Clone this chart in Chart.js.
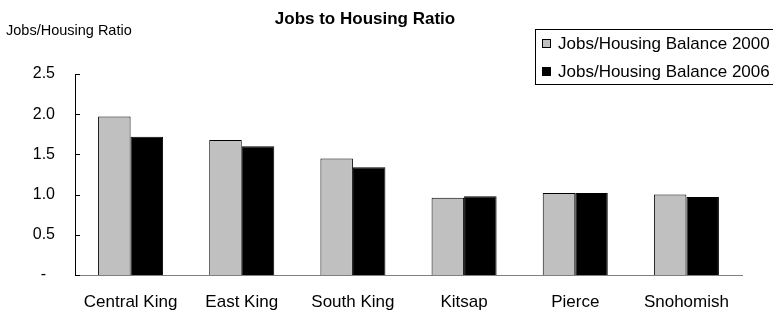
<!DOCTYPE html>
<html>
<head>
<meta charset="utf-8">
<script src="https://cdn.jsdelivr.net/npm/chart.js@4"></script>
<style>
  html, body { margin: 0; padding: 0; background: #fff; }
  #wrap { width: 773px; height: 311px; position: relative; }
</style>
</head>
<body>
<div id="wrap"><canvas id="jobsChart"></canvas></div>
<script>
// Data
const regions = ['Central King', 'East King', 'South King', 'Kitsap', 'Pierce', 'Snohomish'];
const balance2000 = [1.97, 1.68, 1.45, 0.96, 1.02, 1.00];
const balance2006 = [1.72, 1.60, 1.34, 0.98, 1.02, 0.97];
const yTickLabels = { 0: '-  ', 0.5: '0.5', 1: '1.0', 1.5: '1.5', 2: '2.0', 2.5: '2.5' };

const FONT = "'Liberation Sans', Arial, sans-serif";

// Draws the title, y axis caption, inside tick marks and boxed legend
const decorations = {
    id: 'decorations',
    afterDraw(chart) {
        const ctx = chart.ctx;
        const y = chart.scales.y;
        const area = chart.chartArea;
        ctx.save();

        // inside ticks on the value axis
        ctx.strokeStyle = '#000';
        ctx.lineWidth = 1;
        y.ticks.forEach(t => {
            const py = Math.round(y.getPixelForValue(t.value)) + 0.5;
            ctx.beginPath();
            ctx.moveTo(area.left, py);
            ctx.lineTo(area.left + 5, py);
            ctx.stroke();
        });

        // chart title
        ctx.fillStyle = '#000';
        ctx.font = 'bold 17px ' + FONT;
        ctx.textAlign = 'center';
        ctx.textBaseline = 'middle';
        ctx.fillText('Jobs to Housing Ratio', 365, 19);

        // axis caption
        ctx.font = '14.5px ' + FONT;
        ctx.textAlign = 'left';
        ctx.fillText('Jobs/Housing Ratio', 6, 31);

        // legend
        ctx.strokeRect(535.5, 29.5, 245, 55);
        ctx.font = '17px ' + FONT;
        chart.data.datasets.forEach((ds, i) => {
            const cy = 43 + i * 28;
            ctx.fillStyle = ds.backgroundColor;
            ctx.fillRect(542, cy - 4, 9, 9);
            ctx.strokeStyle = '#000';
            ctx.strokeRect(542.5, cy - 3.5, 8, 8);
            ctx.fillStyle = '#000';
            ctx.fillText(ds.label, 558, cy + 1);
        });
        ctx.restore();
    }
};

new Chart(document.getElementById('jobsChart').getContext('2d'), {
    type: 'bar',
    data: {
        labels: regions,
        datasets: [
            {
                label: 'Jobs/Housing Balance 2000',
                data: balance2000,
                backgroundColor: '#c0c0c0',
                borderColor: '#000',
                borderWidth: 1,
                categoryPercentage: 0.585,
                barPercentage: 1
            },
            {
                label: 'Jobs/Housing Balance 2006',
                data: balance2006,
                backgroundColor: '#000',
                borderColor: '#000',
                borderWidth: 1,
                categoryPercentage: 0.585,
                barPercentage: 1
            }
        ]
    },
    options: {
        responsive: true,
        maintainAspectRatio: false,
        animation: false,
        layout: { padding: { left: 0, top: 74, right: 31, bottom: 0 } },
        plugins: {
            legend: { display: false },
            title: { display: false },
            tooltip: { enabled: false }
        },
        scales: {
            x: {
                grid: { display: false },
                border: { display: true, color: '#808080', width: 1 },
                ticks: { color: '#000', font: { family: FONT, size: 17 }, padding: 9, maxRotation: 0, autoSkip: false },
                afterFit(scale) { scale.height = 36; }
            },
            y: {
                min: 0,
                max: 2.5,
                grid: { display: false },
                border: { display: true, color: '#000', width: 1 },
                ticks: {
                    stepSize: 0.5,
                    color: '#000',
                    padding: 12,
                    font: { family: FONT, size: 16 },
                    callback: v => yTickLabels[v]
                },
                afterFit(scale) { scale.width = 75; }
            }
        }
    },
    plugins: [decorations]
});
</script>
</body>
</html>
